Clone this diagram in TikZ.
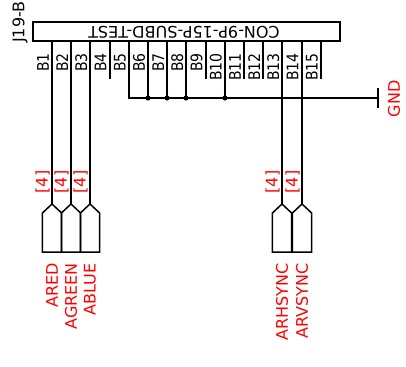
\documentclass[tikz,border=0pt]{standalone}
\usepackage{fontspec}
\setmainfont{DejaVu Sans}
\newfontfamily\pinfont[FakeStretch=0.875]{DejaVu Sans}
\tikzset{
  wire/.style={draw=black,line width=1.5pt},
  pinlabel/.style={rotate=90,anchor=east,inner sep=0pt,font=\fontsize{16}{16}\pinfont},
  reflabel/.style={rotate=90,anchor=west,inner sep=0pt,font=\fontsize{16}{16}\selectfont},
  redlabel/.style={rotate=90,inner sep=0pt,text=red,font=\fontsize{16}{16}\selectfont},
  portshape/.style={wire,line join=miter},
}
\begin{document}
\begin{tikzpicture}[x=1pt,y=-1pt]
   \useasboundingbox (0,0) rectangle (406,366);

   % connector body
   \draw[wire] (33,22) rectangle (340,41);
   \node[rotate=180,inner sep=0pt,font=\fontsize{16}{16}\selectfont] (conname) at (184,32) {CON-9P-15P-SUBD-TEST};
   \node[reflabel] (refname) at (20,43) {J19-B};

   % pins
   \foreach \i in {1,...,15} {
      \coordinate (top\i) at ({round(52+19.2*(\i-1))},41);
      \coordinate (end\i) at ({round(52+19.2*(\i-1))},79);
      \node[pinlabel] (lab\i) at ({43+19.2*(\i-1)},53) {B\i};
   }
   \foreach \i in {4,9,11,12,15}
      \draw[wire] (top\i) -- (end\i);

   % ground rail
   \coordinate (railstart) at (top5|-0,98);
   \coordinate (gndpt) at (378,98);
   \coordinate (gndtop) at (378,88);
   \coordinate (gndbot) at (378,108);
   \draw[wire] (top5) -- (railstart) -- (gndpt);
   \draw[wire] (gndtop) -- (gndbot);
   \node[redlabel] (gndlab) at (394,99) {GND};
   \foreach \i in {6,7,8,10} {
      \coordinate (jn\i) at (top\i|-railstart);
      \draw[wire] (top\i) -- (jn\i);
      \fill (jn\i) circle(2.6);
   }

   % off page ports
   \foreach \i/\name in {1/ARED,2/AGREEN,3/ABLUE,13/ARHSYNC,14/ARVSYNC} {
      \begin{scope}[shift={(top\i)}]
         \coordinate (tip\i) at (0,163);
         \draw[portshape] (tip\i) -- (9.6,172) -- (9.6,211) -- (-9.6,211) -- (-9.6,172) -- cycle;
         \node[redlabel] (num\i) at (-9.4,141) {[4]};
         \node[redlabel,anchor=east] (port\i) at (0,222) {\name};
      \end{scope}
      \draw[wire] (top\i) -- (tip\i);
   }
\end{tikzpicture}
\end{document}
